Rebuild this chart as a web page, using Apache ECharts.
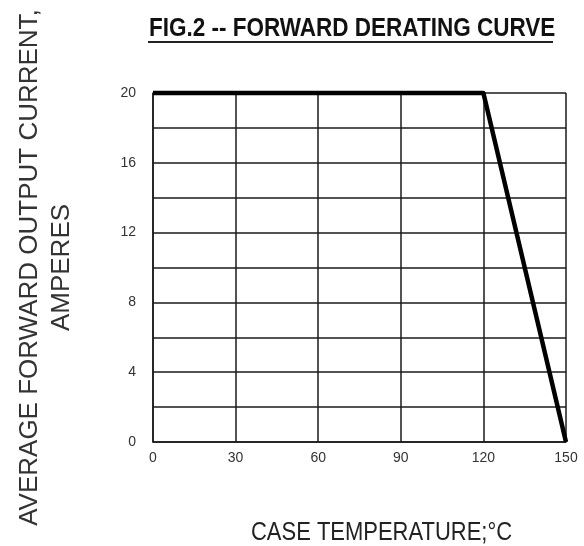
<!DOCTYPE html>
<html>
<head>
<meta charset="utf-8">
<script src="https://cdn.jsdelivr.net/npm/echarts@6/dist/echarts.min.js"></script>
<style>
  html, body { margin: 0; padding: 0; background: #fff; }
  #chart { width: 584px; height: 546px; }
</style>
</head>
<body>
<div id="chart"></div>
<script>
// case temperature (°C) vs. allowed average forward current (A)
const caseTemp = [0, 120, 150];
const currentAmps = [20, 20, 0];
const xTicks = [0, 30, 60, 90, 120, 150];
const yTicks = [0, 4, 8, 12, 16, 20];

const titleText = "FIG.2 -- FORWARD DERATING CURVE";
const xName = "CASE TEMPERATURE;\u00b0C";
const yName = "AVERAGE FORWARD OUTPUT CURRENT,\nAMPERES";

const gridColor = "#1a1a1a";
const sans = "'Liberation Sans', Arial, sans-serif";

const chart = echarts.init(document.getElementById("chart"), null, { renderer: "canvas" });

chart.setOption({
  animation: false,
  backgroundColor: "#fff",
  grid: { left: 153, right: 18, top: 93, bottom: 104 },
  graphic: [
    {
      // condensed bold title
      type: "text",
      x: 149,
      y: 29,
      scaleX: 0.9,
      style: {
        text: titleText,
        fontFamily: sans,
        fontWeight: "bold",
        fontSize: 25,
        fill: "#111",
        textAlign: "left",
        textVerticalAlign: "middle",
      },
    },
    {
      type: "rect",
      left: 148,
      top: 41,
      shape: { width: 405, height: 2 },
      style: { fill: "#222" },
    },
    {
      // x axis name, condensed like the original
      type: "text",
      x: 251,
      y: 533,
      scaleX: 0.845,
      style: {
        text: xName,
        fontFamily: sans,
        fontSize: 26,
        fill: "#222",
        textAlign: "left",
        textVerticalAlign: "middle",
      },
    },
  ],
  xAxis: {
    type: "value",
    min: xTicks[0],
    max: xTicks[xTicks.length - 1],
    interval: 30,
    axisLine: { show: true, lineStyle: { color: gridColor, width: 1.5 } },
    axisTick: { show: false },
    axisLabel: {
      margin: 9,
      fontFamily: sans,
      fontSize: 14,
      color: "#333",
      formatter: (v) => (xTicks.includes(v) ? String(v) : ""),
    },
    splitLine: { show: true, lineStyle: { color: gridColor, width: 1.5 } },
  },
  yAxis: {
    type: "value",
    min: yTicks[0],
    max: yTicks[yTicks.length - 1],
    interval: 2,
    name: yName,
    nameLocation: "middle",
    nameRotate: 90,
    nameGap: 75,
    nameTextStyle: {
      fontFamily: sans,
      fontSize: 26,
      lineHeight: 32,
      color: "#333",
    },
    axisLine: { show: true, lineStyle: { color: gridColor, width: 1.5 } },
    axisTick: { show: false },
    axisLabel: {
      margin: 17,
      fontFamily: sans,
      fontSize: 14,
      color: "#333",
      formatter: (v) => (yTicks.includes(v) ? String(v) : ""),
    },
    splitLine: { show: true, lineStyle: { color: gridColor, width: 1.5 } },
  },
  series: [
    {
      type: "line",
      data: caseTemp.map((t, i) => [t, currentAmps[i]]),
      symbol: "none",
      clip: false,
      lineStyle: { color: "#000", width: 4.5, join: "round" },
    },
  ],
});
</script>
</body>
</html>
